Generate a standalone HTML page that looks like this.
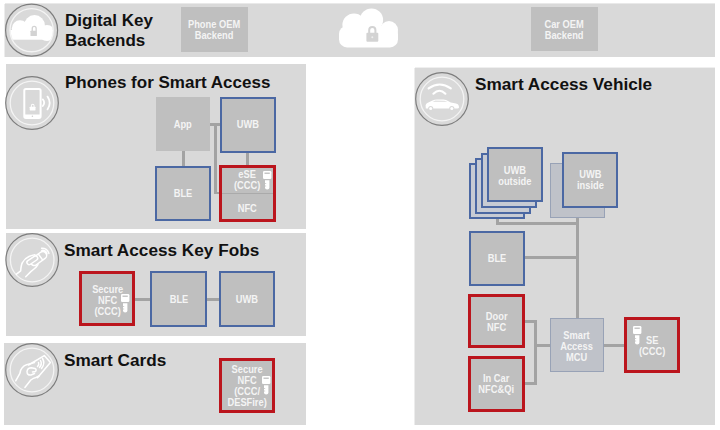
<!DOCTYPE html>
<html><head><meta charset="utf-8">
<style>
html,body{margin:0;padding:0;background:#fff;width:720px;height:430px;overflow:hidden;}
body{position:relative;font-family:"Liberation Sans",sans-serif;}
.p{position:absolute;background:#d9d9d9;}
.t{position:absolute;font-weight:bold;font-size:17.2px;color:#111;white-space:nowrap;line-height:20px;}
.b{position:absolute;box-sizing:border-box;background:#bfbfbf;color:#f4f4f4;font-weight:bold;font-size:10px;line-height:11px;text-align:center;display:flex;align-items:center;justify-content:center;}
.bl{border:2px solid #4b68a3;}
.rd{border:3px solid #bb151d;}
.ln{position:absolute;background:#a3a3a3;}
.c{position:absolute;}
.tx{display:inline-block;transform:scaleX(.93);position:relative;}
</style></head><body>

<!-- panels -->
<div class="p" style="left:5px;top:4px;width:710px;height:53px;box-shadow:0 -1px 0 #e9e9e9,-1px 0 0 #ececec"></div>
<div class="p" style="left:6px;top:64px;width:300px;height:165px"></div>
<div class="p" style="left:6px;top:233px;width:300px;height:103px"></div>
<div class="p" style="left:4px;top:343px;width:302px;height:82px"></div>
<div class="p" style="left:415px;top:68px;width:300px;height:357px;box-shadow:0 -1px 0 #efefef,-1px 0 0 #ececec"></div>

<!-- titles -->
<div class="t" style="left:65px;top:10.6px;font-size:17px;line-height:20.6px">Digital Key<br>Backends</div>
<div class="t" style="left:65px;top:73px;font-size:17px">Phones for Smart Access</div>
<div class="t" style="left:64px;top:240px">Smart Access Key Fobs</div>
<div class="t" style="left:64px;top:350px">Smart Cards</div>
<div class="t" style="left:475px;top:74px">Smart Access Vehicle</div>

<!-- top panel boxes -->
<div class="b" style="left:181px;top:7px;width:67px;height:45px"><span class="tx">Phone OEM<br>Backend</span></div>
<div class="b" style="left:531px;top:7px;width:67px;height:44px"><span class="tx" style="top:1px">Car OEM<br>Backend</span></div>

<!-- center cloud -->
<svg class="c" style="left:330px;top:0" width="80" height="56" viewBox="330 0 80 56">
  <g fill="#fff">
    <circle cx="371.5" cy="20" r="11.6"/>
    <circle cx="354" cy="25" r="11.6"/>
    <circle cx="389" cy="30" r="9"/>
    <rect x="339" y="26" width="59" height="21.4" rx="8"/>
  </g>
  <g fill="#d3d3d3">
    <path d="M368.2 33 V30 a4.1 4.1 0 0 1 8.2 0 V33 h-2 V30 a2.1 2.1 0 0 0 -4.2 0 V33z"/>
    <rect x="366.4" y="32.8" width="11.9" height="9" rx="1"/>
  </g>
  <circle cx="372.3" cy="37.3" r="1" fill="#eee"/>
</svg>

<!-- phone panel boxes -->
<div class="ln" style="left:182px;top:150px;width:3px;height:17px"></div>
<div class="ln" style="left:246px;top:151px;width:3px;height:15px"></div>
<div class="ln" style="left:210px;top:123px;width:10px;height:2.5px"></div>
<div class="ln" style="left:214px;top:123px;width:3px;height:71px"></div>
<div class="ln" style="left:214px;top:192px;width:6px;height:2px"></div>
<div class="b" style="left:156px;top:97px;width:54px;height:54px"><span class="tx">App</span></div>
<div class="b bl" style="left:220px;top:96.6px;width:56px;height:56.3px"><span class="tx">UWB</span></div>
<div class="b bl" style="left:155px;top:166px;width:56px;height:55px"><span class="tx">BLE</span></div>
<div class="b rd" style="left:219px;top:165px;width:57px;height:57px;display:block">
  <div style="position:absolute;left:0;right:0;top:25px;height:1px;background:#aaa"></div>
  <div style="position:absolute;left:7px;top:.5px;width:36px;text-align:center;line-height:11.5px"><span class="tx">eSE<br>(CCC)</span></div>
  <div style="position:absolute;left:0;right:0;top:35px;text-align:center"><span class="tx">NFC</span></div>
</div>

<!-- key fob boxes -->
<div class="ln" style="left:134px;top:297.5px;width:18px;height:3px"></div>
<div class="ln" style="left:205px;top:297.5px;width:15px;height:3px"></div>
<div class="b rd" style="left:79px;top:271px;width:56px;height:55px"><span class="tx" style="top:1.5px;left:1px">Secure<br>NFC<br>(CCC)</span></div>
<div class="b bl" style="left:150px;top:271px;width:57px;height:56px"><span class="tx">BLE</span></div>
<div class="b bl" style="left:219px;top:271px;width:56px;height:56px"><span class="tx">UWB</span></div>

<!-- smart card box -->
<div class="b rd" style="left:219px;top:358px;width:56px;height:55px"><span class="tx" style="top:.5px">Secure<br>NFC<br>(CCC/<br>DESFire)</span></div>

<!-- vehicle lines -->
<div class="ln" style="left:495.5px;top:216px;width:3px;height:8px"></div>
<div class="ln" style="left:495.5px;top:221.5px;width:83px;height:3px"></div>
<div class="ln" style="left:576px;top:216px;width:3px;height:103px"></div>
<div class="ln" style="left:524px;top:256px;width:54px;height:3px"></div>
<div class="ln" style="left:525px;top:319.5px;width:11px;height:3px"></div>
<div class="ln" style="left:534px;top:319.5px;width:3px;height:65px"></div>
<div class="ln" style="left:525px;top:382px;width:11px;height:3px"></div>
<div class="ln" style="left:535px;top:343.5px;width:16px;height:3px"></div>
<div class="ln" style="left:603px;top:343.5px;width:22px;height:3px"></div>

<!-- vehicle boxes -->
<div class="b bl" style="left:468.7px;top:163.3px;width:56.5px;height:55.4px;background:#c7cbd4"></div>
<div class="b bl" style="left:475px;top:158.1px;width:56.3px;height:55.5px;background:#c7cbd4"></div>
<div class="b bl" style="left:481px;top:152.6px;width:56.2px;height:55.5px;background:#c7cbd4"></div>
<div class="b bl" style="left:487px;top:147px;width:56px;height:55.4px"><span class="tx" style="top:1px">UWB<br>outside</span></div>
<div class="b" style="left:550px;top:162.5px;width:55px;height:55px;border:1px solid #98a2b6;background:#bfc2c9"></div>
<div class="b bl" style="left:562px;top:152px;width:56px;height:55.5px"><span class="tx">UWB<br>inside</span></div>
<div class="b bl" style="left:469px;top:230.5px;width:56px;height:55px"><span class="tx">BLE</span></div>
<div class="b rd" style="left:468px;top:293.5px;width:57px;height:54.5px"><span class="tx" style="top:1px">Door<br>NFC</span></div>
<div class="b rd" style="left:468px;top:355.5px;width:57px;height:56.5px"><span class="tx">In Car<br>NFC&amp;Qi</span></div>
<div class="b" style="left:550px;top:318px;width:54px;height:54px;border:1px solid #98a2b6;background:#bfc2c9"><span class="tx" style="top:1px">Smart<br>Access<br>MCU</span></div>
<div class="b rd" style="left:624px;top:317px;width:56px;height:56px"><span class="tx" style="top:1px">SE<br>(CCC)</span></div>

<!-- circle icons -->
<svg class="c" style="left:5px;top:3px" width="54" height="55" viewBox="0 -1 54 55">
  <circle cx="26.6" cy="26.15" r="26" fill="#d9d9d9" stroke="#7d7d7d" stroke-width="1.2"/>
  <circle cx="26.6" cy="26.15" r="21.6" fill="none" stroke="#f4f4f4" stroke-width="1.3"/>
  <clipPath id="cc1"><circle cx="26.6" cy="26.15" r="21"/></clipPath>
  <g fill="#fff" clip-path="url(#cc1)">
    <circle cx="29.5" cy="21.5" r="10.4"/>
    <circle cx="15" cy="24.5" r="8.2"/>
    <circle cx="42" cy="29" r="8"/>
    <rect x="4" y="26" width="48" height="9.7"/>
  </g>
  <g fill="#d3d3d3">
    <path d="M26.6 27 V24.4 a2.6 2.6 0 0 1 5.2 0 V27 h-1.3 V24.4 a1.3 1.3 0 0 0 -2.6 0 V27z"/>
    <rect x="25.5" y="26.7" width="6.4" height="5.4" rx=".6"/>
  </g>
</svg>

<svg class="c" style="left:5px;top:76px" width="55" height="55" viewBox="0 0 55 55">
  <circle cx="27" cy="27" r="26.3" fill="#d9d9d9" stroke="#7d7d7d" stroke-width="1.2"/>
  <circle cx="27" cy="27" r="21.8" fill="none" stroke="#f4f4f4" stroke-width="1.3"/>
  <rect x="19.3" y="12.9" width="16.3" height="29" rx="1.6" fill="none" stroke="#fff" stroke-width="2"/>
  <rect x="19" y="38.5" width="17" height="3.5" fill="#fff"/>
  <circle cx="27.4" cy="40.3" r=".8" fill="#d0d0d0"/>
  <g fill="#fff">
    <path d="M25.9 31 V29.6 a1.8 1.8 0 0 1 3.6 0 V31 h-.9 V29.6 a.9 .9 0 0 0 -1.8 0 V31z"/>
    <rect x="24.7" y="30.8" width="5.8" height="3.6" rx=".4"/>
  </g>
  <path d="M37.8 23.4 q2.8 3.3 0 6.6" fill="none" stroke="#fff" stroke-width="1.8" stroke-linecap="round"/>
  <path d="M42.5 20.6 q4.4 6.4 0 12.8" fill="none" stroke="#fff" stroke-width="1.8" stroke-linecap="round"/>
</svg>

<svg class="c" style="left:5px;top:233px" width="55" height="55" viewBox="0 0 55 55">
  <circle cx="27.2" cy="27" r="26.3" fill="#d9d9d9" stroke="#7d7d7d" stroke-width="1.2"/>
  <circle cx="27.2" cy="27" r="21.8" fill="none" stroke="#f4f4f4" stroke-width="1.3"/>
  <g fill="none" stroke="#fff" stroke-width="1.5" stroke-linecap="round" stroke-linejoin="round">
    <path d="M11.5 41.2 L15.7 37.8 Q16 32 17.5 29.5 Q19.5 25.5 24 23.5 Q27 22.2 30 21.8"/>
    <path d="M20.7 43.7 L25.8 38.6 L29 36 Q31 34.5 33 31.5"/>
    <g transform="rotate(-36 33.5 25.5)"><rect x="24.5" y="21.7" width="18" height="7.6" rx="3.6"/><path d="M36 22 v7"/></g>
    <g transform="rotate(-34 27.3 27.3)"><rect x="21.3" y="25.1" width="12" height="4.4" rx="2.2" fill="#d9d9d9"/></g>
    <path d="M36.6 15.2 A7 7 0 0 1 43.9 20.4"/>
    <path d="M36.8 17.4 A5 5 0 0 1 42 20.9"/>
  </g>
</svg>

<svg class="c" style="left:5px;top:343px" width="55" height="55" viewBox="0 0 55 55">
  <circle cx="27" cy="27" r="26.3" fill="#d9d9d9" stroke="#7d7d7d" stroke-width="1.2"/>
  <circle cx="27" cy="27" r="21.8" fill="none" stroke="#f4f4f4" stroke-width="1.3"/>
  <g fill="none" stroke="#fff" stroke-width="1.5" stroke-linecap="round" stroke-linejoin="round">
    <path d="M23.5 22 L39.3 12.6 L45.4 19.4 L32.5 34.8"/>
    <path d="M10.7 37.8 L14.9 30.3 Q15.5 26.5 17 25 Q19 22.5 21.5 21.8 L29.5 19.6"/>
    <path d="M19.9 44.5 L25.8 37 Q28.5 35 31 34.5 L34.1 33"/>
    <path d="M29.5 30.5 L26 32 Q22 32.5 22 28.5 Q22.5 24.8 26.5 24.8 L30 25.5 Q32 26.5 30.5 28.5 L27.5 29"/>
    <path d="M32.5 23.5 Q34.5 21.5 33.5 19.5"/>
    <path d="M34.5 24.5 Q37.5 21 35.5 17.5"/>
    <path d="M36.5 25.5 Q40.5 20.5 37.5 15.5"/>
  </g>
</svg>

<svg class="c" style="left:415px;top:72px" width="55" height="55" viewBox="0 0 55 55">
  <circle cx="27" cy="27" r="26.3" fill="#d9d9d9" stroke="#7d7d7d" stroke-width="1.2"/>
  <circle cx="27" cy="27" r="21.8" fill="none" stroke="#f4f4f4" stroke-width="1.3"/>
  <g fill="none" stroke="#fff" stroke-width="2.1" stroke-linecap="round">
    <path d="M13.6 16.4 Q24.7 8.6 35.8 16.4"/>
    <path d="M18.4 21.7 Q24.4 15.8 30.4 21.7"/>
  </g>
  <path fill="#fff" d="M10.8 36.6 L10.6 33.2 Q10.9 31.4 12.8 30.8 L17.5 28.5 Q19.5 27.5 22 27.4 L28.5 27.5 Q31 27.8 33.5 29.2 L35.8 30.4 L41 31.5 Q43.3 32.1 43.8 33.8 L44 35.5 Q43.8 36.6 42.5 36.6 L39.4 36.6 A2.6 2.6 0 0 0 34.2 36.6 L18.3 36.6 A2.6 2.6 0 0 0 13.1 36.6 Z"/>
  <path d="M17.6 30 L20.3 28.6 L29.5 28.7 L32.6 30.1 Z" fill="#e4e4e4"/>
  <circle cx="15.7" cy="36.6" r="1.5" fill="#fff"/>
  <circle cx="36.8" cy="36.6" r="1.5" fill="#fff"/>
</svg>

<!-- key icons -->
<svg width="0" height="0" style="position:absolute"><defs>
<symbol id="key" viewBox="0 0 9 19">
  <rect x="0" y="0" width="8.4" height="8.1" rx="1.3" fill="#fff"/>
  <rect x="1.5" y="1.6" width="5.3" height="1.2" fill="#b9b9b9"/>
  <path d="M2 9.2 h4.4 v7.6 q0 1.6 -2.2 1.6 q-2.2 0 -2.2 -1.6z" fill="#fff"/>
  <path d="M2 12 h1.2 v1 h-1.2z M2 14.5 h1.2 v1 h-1.2z" fill="#d0d0d0"/>
</symbol></defs></svg>
<svg class="c" style="left:262.7px;top:171.4px" width="9" height="19"><use href="#key"/></svg>
<svg class="c" style="left:121.2px;top:294.2px" width="9" height="19"><use href="#key"/></svg>
<svg class="c" style="left:262.2px;top:375.5px" width="9" height="19"><use href="#key"/></svg>
<svg class="c" style="left:632.5px;top:326.2px" width="9" height="19"><use href="#key"/></svg>

</body></html>
